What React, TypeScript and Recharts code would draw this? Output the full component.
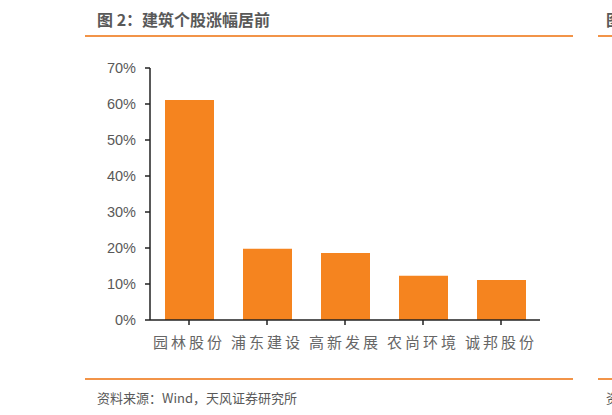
import { BarChart, Bar, XAxis, YAxis } from 'recharts';

// 建筑个股涨幅（%）
const stocks = ['园林股份', '浦东建设', '高新发展', '农尚环境', '诚邦股份'];
const gains = [61.1, 19.8, 18.6, 12.3, 11.1];
const yTicks = [0, 10, 20, 30, 40, 50, 60, 70];

const data = stocks.map((name, i) => ({ name, gain: gains[i] }));

const ORANGE = '#F5841F';
const LINE = '#F29448';
const GREY = '#595959';

export default function App() {
  return (
    <div
      style={{
        position: 'absolute',
        left: 0,
        top: 0,
        width: 612,
        height: 415,
        overflow: 'hidden',
        background: '#fff',
        fontFamily: '"Noto Sans CJK SC", sans-serif',
      }}
    >
      {/* 标题 */}
      <div
        style={{
          position: 'absolute',
          left: 97,
          top: 8,
          fontSize: 16,
          fontWeight: 'bold',
          color: GREY,
          lineHeight: '22px',
          whiteSpace: 'nowrap',
        }}
      >
        图 2：建筑个股涨幅居前
      </div>
      <div
        style={{
          position: 'absolute',
          left: 606,
          top: 8,
          fontSize: 16,
          fontWeight: 'bold',
          color: GREY,
          lineHeight: '22px',
          whiteSpace: 'nowrap',
        }}
      >
        图
      </div>
      <div style={{ position: 'absolute', left: 85, top: 35, width: 488, height: 2, background: LINE }} />
      <div style={{ position: 'absolute', left: 598, top: 35, width: 14, height: 2, background: LINE }} />

      <div style={{ position: 'absolute', left: 0, top: 0 }}>
        <BarChart
          width={612}
          height={415}
          data={data}
          margin={{ top: 68, right: 72, bottom: 55, left: 0 }}
        >
          <XAxis
            dataKey="name"
            height={40}
            tickSize={5}
            tickMargin={12}
            axisLine={{ stroke: '#222', strokeWidth: 1.5 }}
            tickLine={{ stroke: '#222', strokeWidth: 1.5 }}
            tick={{ fill: '#666', fontSize: 15, letterSpacing: 3 }}
            interval={0}
          />
          <YAxis
            width={150}
            domain={[0, 70]}
            ticks={yTicks}
            tickSize={5}
            tickMargin={9}
            tickFormatter={(v) => `${v}%`}
            axisLine={{ stroke: '#222', strokeWidth: 1.5 }}
            tickLine={{ stroke: '#222', strokeWidth: 1.5 }}
            tick={{ fill: GREY, fontSize: 14.5, fontFamily: '"Liberation Sans", Arial, sans-serif' }}
          />
          <Bar dataKey="gain" fill={ORANGE} barSize={49} isAnimationActive={false} />
        </BarChart>
      </div>

      {/* 资料来源 */}
      <div style={{ position: 'absolute', left: 85, top: 378, width: 488, height: 2, background: LINE }} />
      <div style={{ position: 'absolute', left: 598, top: 378, width: 14, height: 2, background: LINE }} />
      <div
        style={{
          position: 'absolute',
          left: 97,
          top: 389,
          fontSize: 13,
          color: GREY,
          lineHeight: '18px',
          whiteSpace: 'nowrap',
        }}
      >
        资料来源：Wind，天风证券研究所
      </div>
      <div
        style={{
          position: 'absolute',
          left: 606,
          top: 389,
          fontSize: 13,
          color: GREY,
          lineHeight: '18px',
          whiteSpace: 'nowrap',
        }}
      >
        资
      </div>
    </div>
  );
}
